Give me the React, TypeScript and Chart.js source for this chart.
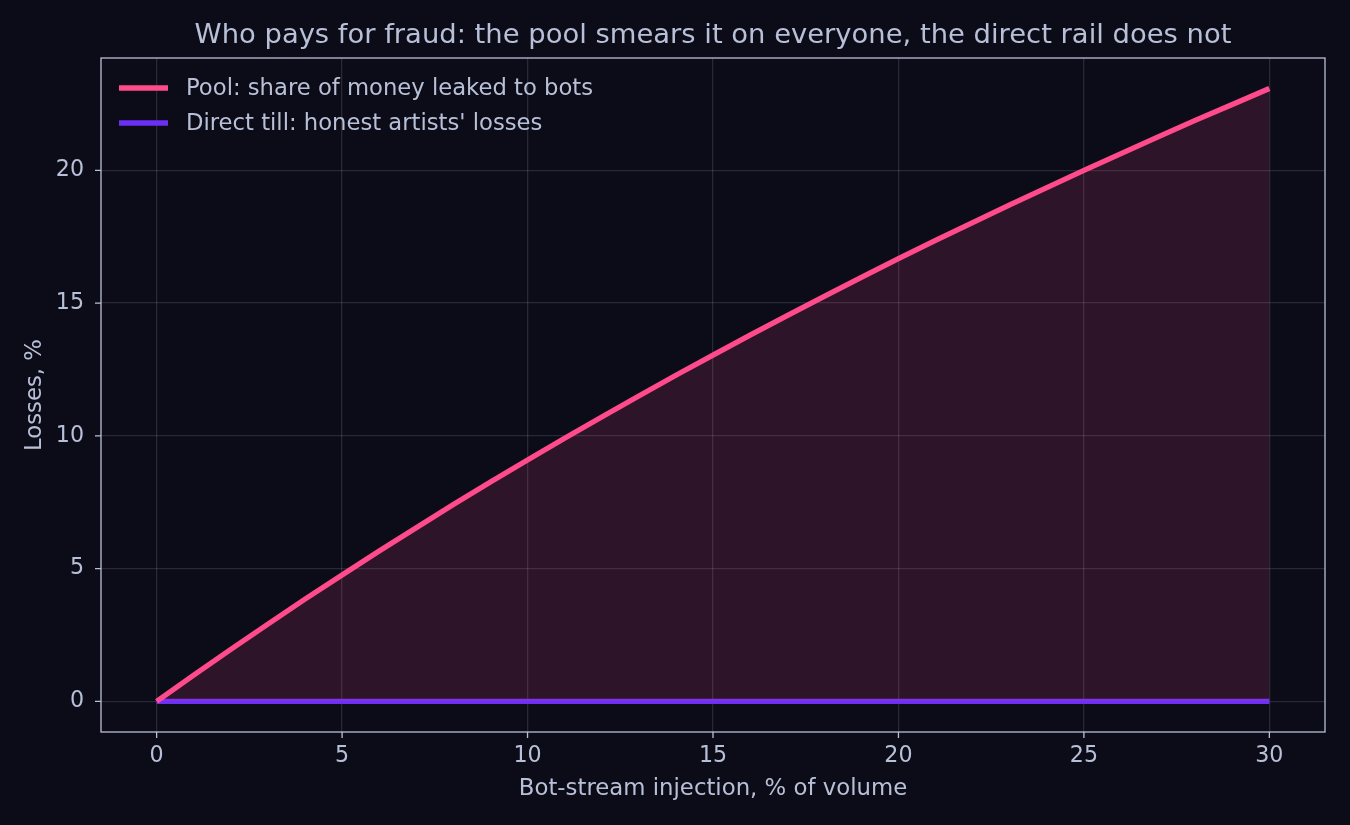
import { useEffect, useRef } from "react";
import { Chart, registerables } from "chart.js";

Chart.register(...registerables);

// bot-stream injection, % of volume
const injection = [
	0, 1, 2, 3, 4, 5, 6, 7, 8, 9, 10, 11, 12, 13, 14, 15, 16, 17, 18, 19, 20,
	21, 22, 23, 24, 25, 26, 27, 28, 29, 30,
];
// pool: share of money leaked to bots, %
const poolLeak = [
	0, 0.99, 1.96, 2.91, 3.85, 4.76, 5.66, 6.54, 7.41, 8.26, 9.09, 9.91, 10.71,
	11.5, 12.28, 13.04, 13.79, 14.53, 15.25, 15.97, 16.67, 17.36, 18.03, 18.7,
	19.35, 20.0, 20.63, 21.26, 21.88, 22.48, 23.08,
];
// direct till: honest artists' losses, %
const directLoss = [
	0, 0, 0, 0, 0, 0, 0, 0, 0, 0, 0, 0, 0, 0, 0, 0, 0, 0, 0, 0, 0, 0, 0, 0, 0, 0,
	0, 0, 0, 0, 0,
];
const seriesNames = [
	"Pool: share of money leaked to bots",
	"Direct till: honest artists' losses",
];
const xTicks = [0, 5, 10, 15, 20, 25, 30];
const yTicks = [0, 5, 10, 15, 20];

const BG = "#0c0b18";
const TEXT = "#b8c0d8";
const PINK = "#ff4b8b";
const PURPLE = "#6b2ff5";
const GRID = "rgba(184, 192, 216, 0.16)";
const FONT = "'DejaVu Sans', sans-serif";

const overlay = {
	id: "overlay",
	beforeDraw(chart: Chart) {
		const { ctx, width, height } = chart;
		ctx.save();
		ctx.fillStyle = BG;
		ctx.fillRect(0, 0, width, height);
		ctx.restore();
	},
	afterDraw(chart: Chart) {
		const { ctx, chartArea } = chart;
		ctx.save();
		// frame
		ctx.strokeStyle = TEXT;
		ctx.lineWidth = 1.3;
		ctx.strokeRect(
			chartArea.left,
			chartArea.top,
			chartArea.right - chartArea.left,
			chartArea.bottom - chartArea.top,
		);
		// title
		ctx.fillStyle = TEXT;
		ctx.font = `27.4px ${FONT}`;
		ctx.textAlign = "center";
		ctx.textBaseline = "middle";
		ctx.fillText(
			"Who pays for fraud: the pool smears it on everyone, the direct rail does not",
			(chartArea.left + chartArea.right) / 2,
			36,
		);
		// legend
		ctx.font = `22.7px ${FONT}`;
		ctx.textAlign = "left";
		chart.data.datasets.forEach((ds, i) => {
			const y = chartArea.top + 30 + i * 35;
			ctx.strokeStyle = ds.borderColor as string;
			ctx.lineWidth = 5.3;
			ctx.beginPath();
			ctx.moveTo(chartArea.left + 18, y);
			ctx.lineTo(chartArea.left + 67, y);
			ctx.stroke();
			ctx.fillStyle = TEXT;
			ctx.fillText(ds.label as string, chartArea.left + 85, y + 1);
		});
		ctx.restore();
	},
};

// short outward tick marks like the reference
const tickMarks = {
	id: "tickMarks",
	afterDraw(chart: Chart) {
		const { ctx, chartArea, scales } = chart;
		ctx.save();
		ctx.strokeStyle = TEXT;
		ctx.lineWidth = 1.3;
		ctx.beginPath();
		xTicks.forEach((v) => {
			const px = scales.x.getPixelForValue(v);
			ctx.moveTo(px, chartArea.bottom);
			ctx.lineTo(px, chartArea.bottom + 6);
		});
		yTicks.forEach((v) => {
			const py = scales.y.getPixelForValue(v);
			ctx.moveTo(chartArea.left, py);
			ctx.lineTo(chartArea.left - 6, py);
		});
		ctx.stroke();
		ctx.restore();
	},
};

export default function App() {
	const chartRef = useRef<HTMLCanvasElement>(null);

	useEffect(() => {
		if (!chartRef.current) return;
		const chart = new Chart(chartRef.current, {
			type: "line",
			data: {
				datasets: [
					{
						label: seriesNames[0],
						data: injection.map((x, i) => ({ x, y: poolLeak[i] })),
						borderColor: PINK,
						backgroundColor: "rgba(255, 75, 139, 0.14)",
						borderWidth: 5.3,
						pointRadius: 0,
						fill: "origin",
						tension: 0,
					},
					{
						label: seriesNames[1],
						data: injection.map((x, i) => ({ x, y: directLoss[i] })),
						borderColor: PURPLE,
						borderWidth: 5.3,
						pointRadius: 0,
						fill: false,
						tension: 0,
					},
				],
			},
			options: {
				animation: false,
				responsive: true,
				maintainAspectRatio: false,
				layout: { padding: { top: 58, right: 25, left: 0, bottom: 0 } },
				plugins: {
					legend: { display: false },
					title: { display: false },
					tooltip: { enabled: false },
				},
				scales: {
					x: {
						type: "linear",
						min: -1.5,
						max: 31.5,
						afterBuildTicks: (s) => {
							s.ticks = xTicks.map((v) => ({ value: v }));
						},
						afterFit: (s) => {
							s.height = 93;
						},
						border: { display: false },
						grid: { color: GRID, lineWidth: 1.3, drawTicks: false },
						ticks: {
							color: TEXT,
							font: { family: FONT, size: 22.2 },
							padding: 11,
							maxRotation: 0,
						},
						title: {
							display: true,
							text: "Bot-stream injection, % of volume",
							color: TEXT,
							font: { family: FONT, size: 22.8 },
							padding: { top: 0, bottom: 22 },
						},
					},
					y: {
						min: -1.154,
						max: 24.23,
						afterBuildTicks: (s) => {
							s.ticks = yTicks.map((v) => ({ value: v }));
						},
						afterFit: (s) => {
							s.width = 101;
						},
						border: { display: false },
						grid: { color: GRID, lineWidth: 1.3, drawTicks: false },
						ticks: {
							color: TEXT,
							font: { family: FONT, size: 22.2 },
							padding: 17,
						},
						title: {
							display: true,
							text: "Losses, %",
							color: TEXT,
							font: { family: FONT, size: 22.8 },
							padding: { top: 21, bottom: 0 },
						},
					},
				},
			},
			plugins: [overlay, tickMarks],
		});
		return () => chart.destroy();
	}, []);

	return (
		<div
			style={{
				position: "fixed",
				left: 0,
				top: 0,
				width: 1350,
				height: 825,
				background: BG,
			}}
		>
			<canvas ref={chartRef}></canvas>
		</div>
	);
}
